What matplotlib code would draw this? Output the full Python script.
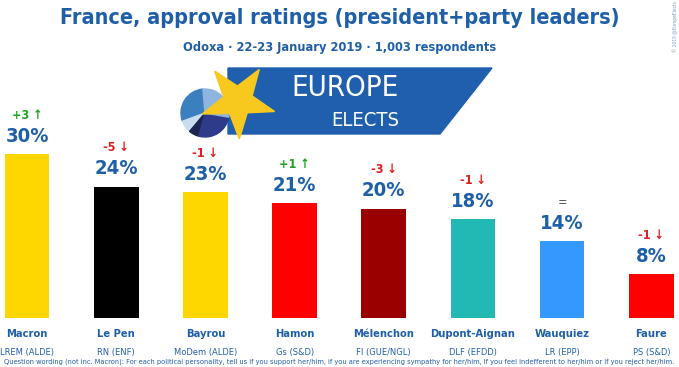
import numpy as np
import matplotlib.pyplot as plt
from matplotlib.patches import Polygon, Wedge

# data
names = ['Macron', 'Le Pen', 'Bayrou', 'Hamon', 'Mélenchon', 'Dupont-Aignan', 'Wauquiez', 'Faure']
parties = ['LREM (ALDE)', 'RN (ENF)', 'MoDem (ALDE)', 'Gs (S&D)', 'FI (GUE/NGL)', 'DLF (EFDD)', 'LR (EPP)', 'PS (S&D)']
ratings = [30, 24, 23, 21, 20, 18, 14, 8]
changes = ['+3 ↑', '-5 ↓', '-1 ↓', '+1 ↑', '-3 ↓', '-1 ↓', '=', '-1 ↓']
colors = ['#FFD700', '#000000', '#FFD700', '#FF0000', '#990000', '#22B8B4', '#3399FF', '#FF0000']

BLUE = '#1F5FA8'
plt.rcParams['font.family'] = ['DejaVu Sans']
plt.rcParams['font.stretch'] = 'condensed'

W, H = 679, 367
fig = plt.figure(figsize=(W / 100, H / 100), dpi=100)

ax = fig.add_axes([0, 49 / H, 1, 1 - 49 / H])
x = np.arange(len(names))
ax.bar(x, ratings, width=0.5, color=colors)
ax.set_xlim(-0.303, 7.31)
ax.set_ylim(0, 58.1)
ax.axis('off')

for i, v in enumerate(ratings):
    ax.text(i, v + 1.5, f'{v}%', ha='center', va='bottom', fontsize=14.5, color=BLUE, fontweight='bold')
    c = changes[i]
    col = '#22A022' if c.startswith('+') else ('#E02020' if c.startswith('-') else '#555555')
    ax.text(i, v + 5.9, c, ha='center', va='bottom', fontsize=9, color=col,
            fontweight='normal' if c == '=' else 'bold')

for i in range(len(names)):
    fig.text((27 + 89.2 * i) / W, 1 - 334 / H, names[i], ha='center', va='center',
             fontsize=8, color=BLUE, fontweight='bold')
    fig.text((27 + 89.2 * i) / W, 1 - 352 / H, parties[i], ha='center', va='center',
             fontsize=6.7, color=BLUE)

fig.text(0.5, 1 - 362 / H,
         'Question wording (not inc. Macron): For each political personality, tell us if you support her/him, '
         'if you are experiencing sympathy for her/him, if you feel indefferent to her/him or if you reject her/him.',
         ha='center', va='center', fontsize=5.3, color=BLUE)

fig.text(0.5, 1 - 18 / H, 'France, approval ratings (president+party leaders)', ha='center', va='center',
         fontsize=15.5, color=BLUE, fontweight='bold')
fig.text(0.5, 1 - 48 / H, 'Odoxa · 22-23 January 2019 · 1,003 respondents', ha='center', va='center',
         fontsize=9.2, color=BLUE, fontweight='bold')
fig.text(675 / W, 1 - 26 / H, '© 2019 @EuropeElects', rotation=90, ha='center', va='center',
         fontsize=3.5, color='#7A9CC8')

# logo, drawn in pixel coordinates (y flipped so that angles read normally)
lg = fig.add_axes([0, 0, 1, 1], zorder=-1)
lg.set_xlim(0, W)
lg.set_ylim(0, H)
lg.axis('off')


def P(px, py):
    return (px, H - py)


lg.add_patch(Polygon([P(228, 68), P(492, 68), P(440, 134), P(228, 134)], closed=True, color='#1F5FAD'))
pie_c = P(205, 113)
pie_parts = [(95, 200, '#3C7FBF'), (200, 230, '#C8DDF0'), (230, 255, '#1B2550'), (255, 350, '#2E3A8A'),
             (350, 455, '#8FB4DE')]
for a0, a1, c in pie_parts:
    lg.add_patch(Wedge(pie_c, 24, a0, a1, color=c))
cx, cy = 238, 101
pts = []
for k in range(10):
    r = 38 if k % 2 == 0 else 15
    ang = np.deg2rad(-56 + 36 * k)
    pts.append(P(cx + r * np.cos(ang), cy + r * np.sin(ang)))
lg.add_patch(Polygon(pts, closed=True, color='#F7C81E'))
lg.text(*P(345, 88), 'EUROPE', ha='center', va='center', fontsize=21, color='white', fontweight='light')
lg.text(*P(365, 121), 'ELECTS', ha='center', va='center', fontsize=14.5, color='white', fontweight='light')

fig.savefig('out.png', dpi=100)
